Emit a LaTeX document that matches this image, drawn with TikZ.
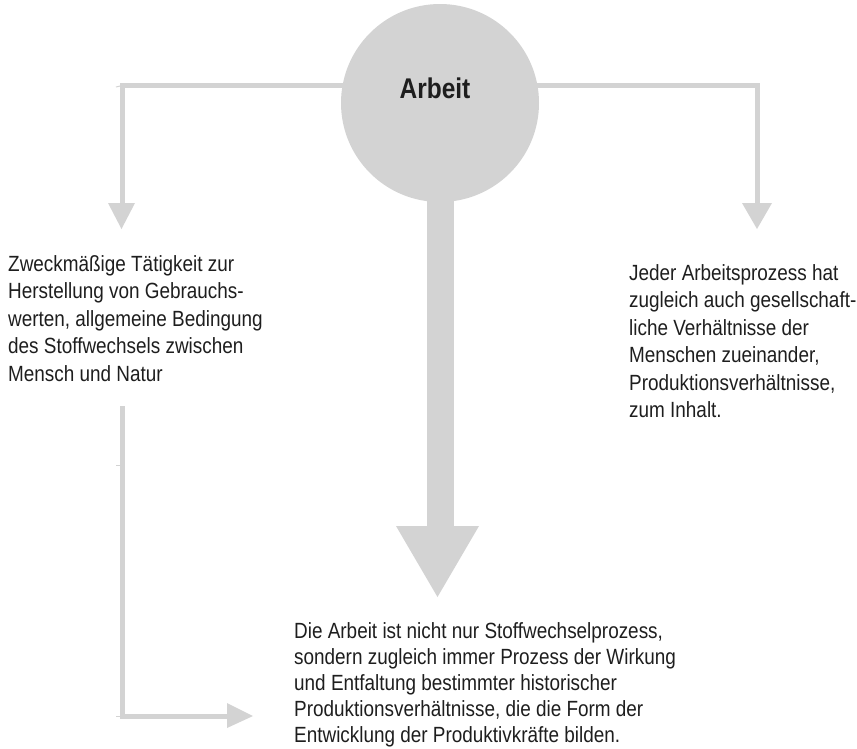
\documentclass[tikz,border=0pt]{standalone}
\usepackage{fontspec}
\setmainfont{Liberation Sans}[FakeStretch=0.86]
\usetikzlibrary{calc}
\definecolor{lgray}{HTML}{D3D3D3}
\definecolor{ink}{HTML}{1E1E1E}
\tikzset{
  conn/.style={draw=lgray, line width=5pt},
  stem/.style={draw=lgray, line width=27pt},
  tick/.style={draw=lgray, line width=1pt},
  headfill/.style={fill=lgray},
  txt/.style={anchor=base west, inner sep=0pt, text=ink, font=\fontsize{22}{27.5}\selectfont},
  txtb/.style={anchor=base west, inner sep=0pt, text=ink, font=\fontsize{22}{26}\selectfont},
}
\begin{document}
\begin{tikzpicture}[x=1pt,y=-1pt]
\useasboundingbox (0,0) rectangle (857,748);
% coordinates
\coordinate (Ltop) at (122.5,85.5);
\coordinate (Rtop) at (757,85.5);
\coordinate (Lend) at (122.5,203);
\coordinate (Ltip) at (121.5,229);
\coordinate (Rend) at (757,203);
\coordinate (Rtip) at (757,229);
\coordinate (Sstart) at (440,150);
\coordinate (Send) at (440,526);
\coordinate (Stip) at (437.5,597);
\coordinate (Btop) at (122.5,406);
\coordinate (Bcorner) at (122.5,716);
\coordinate (Bend) at (227,716);
\coordinate (Btip) at (253,716);
% connectors
\draw[conn, line join=miter] (Lend) -- (Ltop) -- (Rtop) -- (Rend);
\fill[headfill] ($(Ltip)+(-13.5,-26)$) -- ($(Ltip)+(13.5,-26)$) -- (Ltip) -- cycle;
\fill[headfill] ($(Rtip)+(-15,-26)$) -- ($(Rtip)+(15,-26)$) -- (Rtip) -- cycle;
\draw[tick] (116,87) -- (Ltop);
\draw[stem] (Sstart) -- (Send);
\fill[headfill] ($(Send)+(-44,0)$) -- ($(Send)+(39,0)$) -- (Stip) -- cycle;
% circle
\node[circle, fill=lgray, minimum size=198pt, inner sep=0pt] (arbeit) at (440,103) {};
\node[anchor=base, inner sep=0pt, text=ink, font=\fontsize{28.5}{30}\selectfont\bfseries] (arbeitlabel) at (435,98) {Arbeit};
% lower left connector
\draw[conn, line join=miter] (Btop) -- (Bcorner) -- (Bend);
\draw[tick] (116,716) -- (Bcorner);
\draw[tick] (116,465) -- (122.5,465);
\fill[headfill] ($(Bend)+(0,-13)$) -- ($(Bend)+(0,12)$) -- (Btip) -- cycle;
% texts
\node[txt] (lefttext) at (8,271) {\begin{tabular}[t]{@{}l@{}}Zweckmäßige Tätigkeit zur\\Herstellung von Gebrauchs-\\werten, allgemeine Bedingung\\des Stoffwechsels zwischen\\Mensch und Natur\end{tabular}};
\node[txt] (righttext) at (629,280) {\begin{tabular}[t]{@{}l@{}}Jeder Arbeitsprozess hat\\zugleich auch gesellschaft-\\liche Verhältnisse der\\Menschen zueinander,\\Produktionsverhältnisse,\\zum Inhalt.\end{tabular}};
\node[txtb] (bottomtext) at (294,638) {\begin{tabular}[t]{@{}l@{}}Die Arbeit ist nicht nur Stoffwechselprozess,\\sondern zugleich immer Prozess der Wirkung\\und Entfaltung bestimmter historischer\\Produktionsverhältnisse, die die Form der\\Entwicklung der Produktivkräfte bilden.\end{tabular}};
\end{tikzpicture}
\end{document}
